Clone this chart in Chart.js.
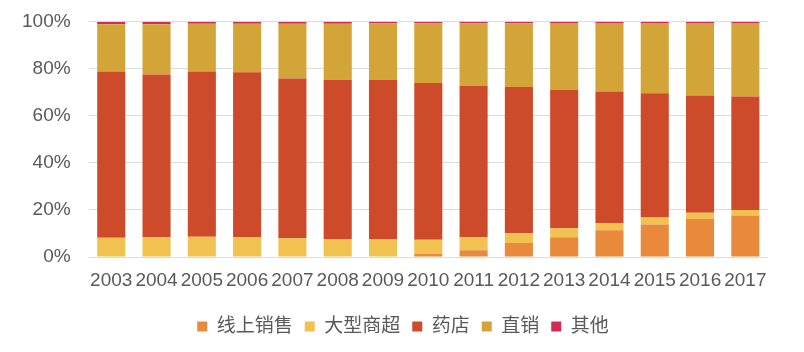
<!DOCTYPE html>
<html>
<head>
<meta charset="utf-8">
<script src="https://cdn.jsdelivr.net/npm/chart.js@4/dist/chart.umd.min.js"></script>
<style>
  html, body { margin: 0; padding: 0; background: #fff; }
  #wrap { width: 804px; height: 352px; }
</style>
</head>
<body>
<div id="wrap"><canvas id="myChart" width="804" height="352"></canvas></div>
<script>
// years on the x axis
let years = ['2003', '2004', '2005', '2006', '2007', '2008', '2009', '2010',
  '2011', '2012', '2013', '2014', '2015', '2016', '2017'];

// channel shares, %
let online = [0, 0, 0, 0, 0, 0, 0, 1.4, 2.9, 5.9, 8.4, 11.4, 13.8, 16.2, 17.6];
let supermarket = [8.2, 8.4, 8.6, 8.5, 8.0, 7.7, 7.4, 5.9, 5.5, 4.2, 3.8, 3.0, 3.0, 2.6, 2.4];
let pharmacy = [70.7, 69.2, 70.3, 70.0, 67.9, 67.7, 68.0, 66.7, 64.4, 62.2, 58.9, 56.0, 52.8, 49.9, 48.2];
let direct = [20.1, 21.4, 20.3, 20.7, 23.3, 23.8, 24.0, 25.4, 26.6, 27.1, 28.4, 29.1, 29.9, 30.8, 31.3];
let other = [1.0, 1.0, 0.8, 0.8, 0.8, 0.8, 0.6, 0.6, 0.6, 0.6, 0.5, 0.5, 0.5, 0.5, 0.5];

let seriesNames = ['线上销售', '大型商超', '药店', '直销', '其他'];
let yTicks = [0, 20, 40, 60, 80, 100];

let fontFamily = "'Liberation Sans', Arial, 'Noto Sans CJK SC', sans-serif";
let textColor = '#595959';

function makeSet(label, data, color) {
  return {
    label: label,
    data: data,
    backgroundColor: color,
    borderWidth: 0,
    categoryPercentage: 1,
    barPercentage: 0.62
  };
}

const ctx = document.getElementById('myChart').getContext('2d');
const myChart = new Chart(ctx, {
  type: 'bar',
  data: {
    labels: years,
    datasets: [
      makeSet(seriesNames[0], online, '#e8893b'),
      makeSet(seriesNames[1], supermarket, '#f2c250'),
      makeSet(seriesNames[2], pharmacy, '#cd4a2a'),
      makeSet(seriesNames[3], direct, '#d3a538'),
      makeSet(seriesNames[4], other, '#d6295a')
    ]
  },
  options: {
    responsive: false,
    animation: false,
    devicePixelRatio: 1,
    layout: {
      padding: { left: 4, right: 2, top: 6, bottom: 6 }
    },
    plugins: {
      tooltip: { enabled: false },
      legend: {
        position: 'bottom',
        labels: {
          boxWidth: 10,
          boxHeight: 10,
          padding: 12,
          color: textColor,
          font: { family: fontFamily, size: 19 }
        }
      }
    },
    scales: {
      x: {
        stacked: true,
        grid: { display: false, drawTicks: false },
        border: { display: false },
        ticks: {
          color: textColor,
          padding: 14.5,
          maxRotation: 0,
          autoSkip: false,
          font: { family: fontFamily, size: 19, lineHeight: 1 }
        }
      },
      y: {
        stacked: true,
        min: 0,
        max: 100,
        afterBuildTicks: function (axis) {
          axis.ticks = yTicks.map(function (v) { return { value: v }; });
        },
        grid: { color: '#dcdcdc', lineWidth: 1, drawTicks: false },
        border: { display: false },
        ticks: {
          color: textColor,
          padding: 18,
          // small lineHeight so the top label doesn't push the plot down
          font: { family: fontFamily, size: 19, lineHeight: 0.4 },
          callback: function (v) { return v + '%'; }
        }
      },
      // empty right-side spacer so the legend stays centred on the page
      spacer: {
        position: 'right',
        min: 0,
        max: 100,
        grid: { display: false, drawTicks: false },
        border: { display: false },
        ticks: { display: false },
        afterFit: function (scale) { scale.width = 34; }
      }
    }
  }
});
</script>
</body>
</html>
